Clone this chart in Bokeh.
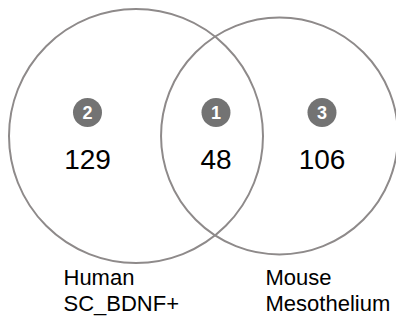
import math
from bokeh.plotting import figure
from bokeh.models import Range1d
from bokeh.embed import file_html
from bokeh.resources import INLINE
from bokeh.core.properties import value

# ---- data ----
set_names = ["Human\nSC_BDNF+", "Mouse\nMesothelium"]
region_ids = ["2", "1", "3"]          # left only, both, right only
region_counts = [129, 48, 106]

set_sizes = [region_counts[0] + region_counts[1], region_counts[2] + region_counts[1]]

# ---- layout (pixel coordinates of the picture) ----
W, H = 396, 316
p = figure(width=W, height=H, x_range=Range1d(0, W), y_range=Range1d(H, 0),
           output_backend="svg", toolbar_location=None, min_border=0)
p.axis.visible = False
p.grid.visible = False
p.outline_line_color = None

k = 127.0 / math.sqrt(set_sizes[0])
radii = [k * math.sqrt(s) for s in set_sizes]
cx = [135.5, 279.0]
cy = [135.5, 135.5]

p.circle(x=cx, y=cy, radius=radii, fill_color=None, line_color="#8e8a8a", line_width=2)

rx = [87.0, 215.5, 321.5]
badge_y = 112.0
num_mid = 158.5

p.circle(x=rx, y=[badge_y] * 3, radius=14.5, fill_color="#737373", line_color=None)
p.text(x=rx, y=[badge_y] * 3, text=region_ids, text_color="white",
       text_font=value("Liberation Sans"), text_font_style="bold", text_font_size="18px",
       text_align="center", text_baseline="middle")

p.text(x=rx, y=[num_mid] * 3, text=[str(c) for c in region_counts], text_color="#000000",
       text_font=value("Liberation Sans"), text_font_size="28px",
       text_align="center", text_baseline="middle")

label_x = [63.0, 265.0]
for i, name in enumerate(set_names):
    lines = name.split("\n")
    p.text(x=[label_x[i]] * len(lines), y=[277.0 + 26.0 * j for j in range(len(lines))],
           text=lines, text_color="#000000", text_font=value("Liberation Sans"),
           text_font_size="22px", text_align="left", text_baseline="middle")

open("out.html", "w").write(file_html(p, INLINE))
